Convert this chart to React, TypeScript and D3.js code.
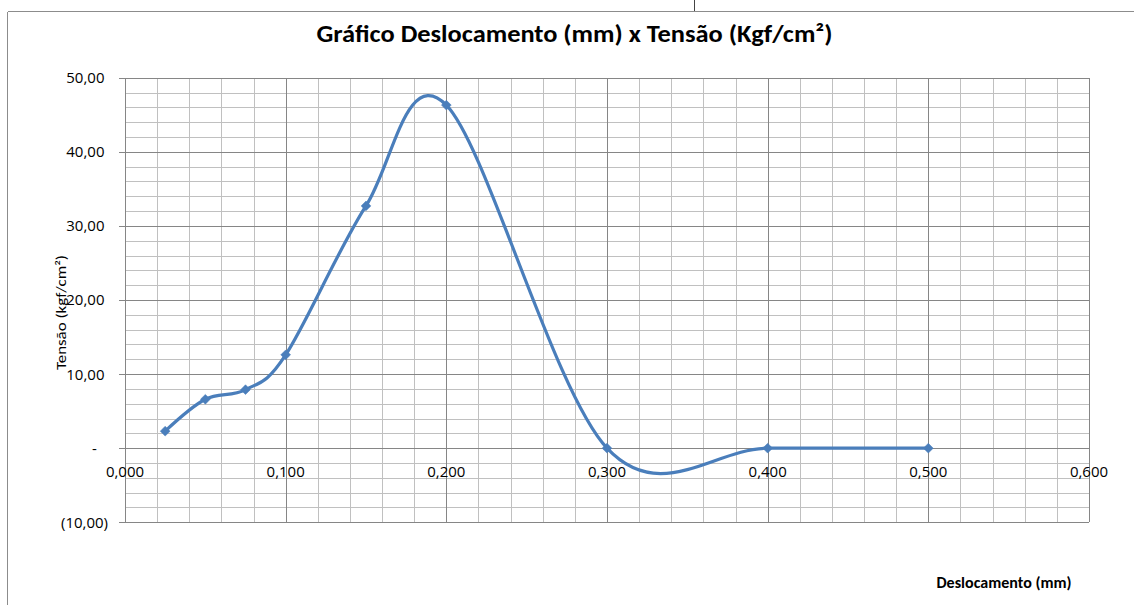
import React from "react";
import * as d3 from "d3";

const deslocamento = [0.025, 0.05, 0.075, 0.1, 0.15, 0.2, 0.3, 0.4, 0.5];
const tensao = [2.3, 6.6, 7.9, 12.6, 32.7, 46.3, 0, 0, 0];
const xTicks = [0, 0.1, 0.2, 0.3, 0.4, 0.5, 0.6];
const yTicks = [-10, 0, 10, 20, 30, 40, 50];

const title = "Gráfico Deslocamento (mm) x Tensão (Kgf/cm²)";
const yTitle = "Tensão (kgf/cm²)";
const xTitle = "Deslocamento (mm)";

const W = 1134;
const H = 605;
const left = 125;
const right = 1089;
const top = 77.7;
const bottom = 522.3;

const locale = d3.formatLocale({ decimal: ",", thousands: ".", grouping: [3], currency: ["", ""] });
const f2 = locale.format(".2f");
const f3 = locale.format(".3f");

const calibri = "Carlito, 'Liberation Sans Narrow', 'Roboto Condensed', 'Open Sans', sans-serif";
const labelFont = "'Open Sans', 'Noto Sans', sans-serif";

export default function App() {
  const x = d3.scaleLinear().domain([0, 0.6]).range([left, right]);
  const y = d3.scaleLinear().domain([-10, 50]).range([bottom, top]);

  const minorX = d3.range(0, 31).map((i) => i * 0.02);
  const minorY = d3.range(0, 31).map((i) => -10 + i * 2);

  const pts: [number, number][] = deslocamento.map((d, i) => [d, tensao[i]]);
  const line = d3
    .line<[number, number]>()
    .x((d) => x(d[0]))
    .y((d) => y(d[1]))
    .curve(d3.curveCardinal.tension(0));

  const diamond = d3.symbol(d3.symbolSquare, 48)();

  const minorColor = "#c0c0c0";
  const majorColor = "#868686";
  const blue = "#4a7ebb";

  const yLabel = (v: number) => (v === 0 ? "-" : v < 0 ? "(" + f2(-v) + ")" : f2(v));

  return (
    <svg
      width={W}
      height={H}
      style={{ position: "absolute", left: 0, top: 0, background: "#fff" }}
      shapeRendering="crispEdges"
    >
      <rect x={0} y={0} width={W} height={H} fill="#fff" />
      {/* document cut-off line */}
      <line x1={694.5} y1={0} x2={694.5} y2={11} stroke="#444" strokeWidth={1} />
      {/* chart frame */}
      <line x1={7.5} y1={11.5} x2={W} y2={11.5} stroke="#8c8c8c" />
      <line x1={7.5} y1={11.5} x2={7.5} y2={H} stroke="#8c8c8c" />

      {/* minor grid */}
      {minorX.map((v, i) => (
        <line key={"mx" + i} x1={Math.round(x(v)) + 0.5} x2={Math.round(x(v)) + 0.5} y1={top} y2={bottom} stroke={minorColor} />
      ))}
      {minorY.map((v, i) => (
        <line key={"my" + i} x1={left} x2={right} y1={Math.round(y(v)) + 0.5} y2={Math.round(y(v)) + 0.5} stroke={minorColor} />
      ))}
      {/* major grid */}
      {xTicks.map((v, i) => (
        <line key={"Mx" + i} x1={Math.round(x(v)) + 0.5} x2={Math.round(x(v)) + 0.5} y1={top} y2={bottom} stroke={majorColor} />
      ))}
      {yTicks.map((v, i) => (
        <line key={"My" + i} x1={left - 6} x2={right} y1={Math.round(y(v)) + 0.5} y2={Math.round(y(v)) + 0.5} stroke={majorColor} />
      ))}

      {/* y labels */}
      {yTicks.map((v, i) => (
        <text
          key={"yl" + i}
          x={v === 0 ? 94.5 : v < 0 ? 108 : 104.5}
          y={y(v)}
          dy="0.36em"
          textAnchor={v === 0 ? "middle" : "end"}
          fontFamily={labelFont}
          fontSize={15}
          fill="#000"
        >
          {yLabel(v)}
        </text>
      ))}
      {/* x labels */}
      {xTicks.map((v, i) => (
        <text
          key={"xl" + i}
          x={x(v)}
          y={477}
          textAnchor="middle"
          fontFamily={labelFont}
          fontSize={15}
          fill="#000"
        >
          {f3(v)}
        </text>
      ))}

      {/* series */}
      <path d={line(pts) || ""} fill="none" stroke={blue} strokeWidth={3.2} shapeRendering="auto" strokeLinecap="round" />
      {pts.map((p, i) => (
        <path
          key={"m" + i}
          d={diamond || ""}
          transform={`translate(${x(p[0])},${y(p[1])}) rotate(45)`}
          fill={blue}
          stroke={blue}
          strokeWidth={0.5}
          shapeRendering="auto"
        />
      ))}

      {/* titles */}
      <text
        x={574.5}
        y={42}
        textAnchor="middle"
        fontFamily={calibri}
        fontWeight="bold"
        fontSize={24}
        textLength={516}
        lengthAdjust="spacingAndGlyphs"
        fill="#000"
      >
        {title}
      </text>
      <text
        transform={`translate(66,312.5) rotate(-90)`}
        textAnchor="middle"
        fontFamily={calibri}
        fontSize={14}
        textLength={115}
        lengthAdjust="spacingAndGlyphs"
        fill="#000"
      >
        {yTitle}
      </text>
      <text
        x={1004}
        y={587.5}
        textAnchor="middle"
        fontFamily={calibri}
        fontWeight="bold"
        fontSize={15.5}
        textLength={135}
        lengthAdjust="spacingAndGlyphs"
        fill="#000"
      >
        {xTitle}
      </text>
    </svg>
  );
}
